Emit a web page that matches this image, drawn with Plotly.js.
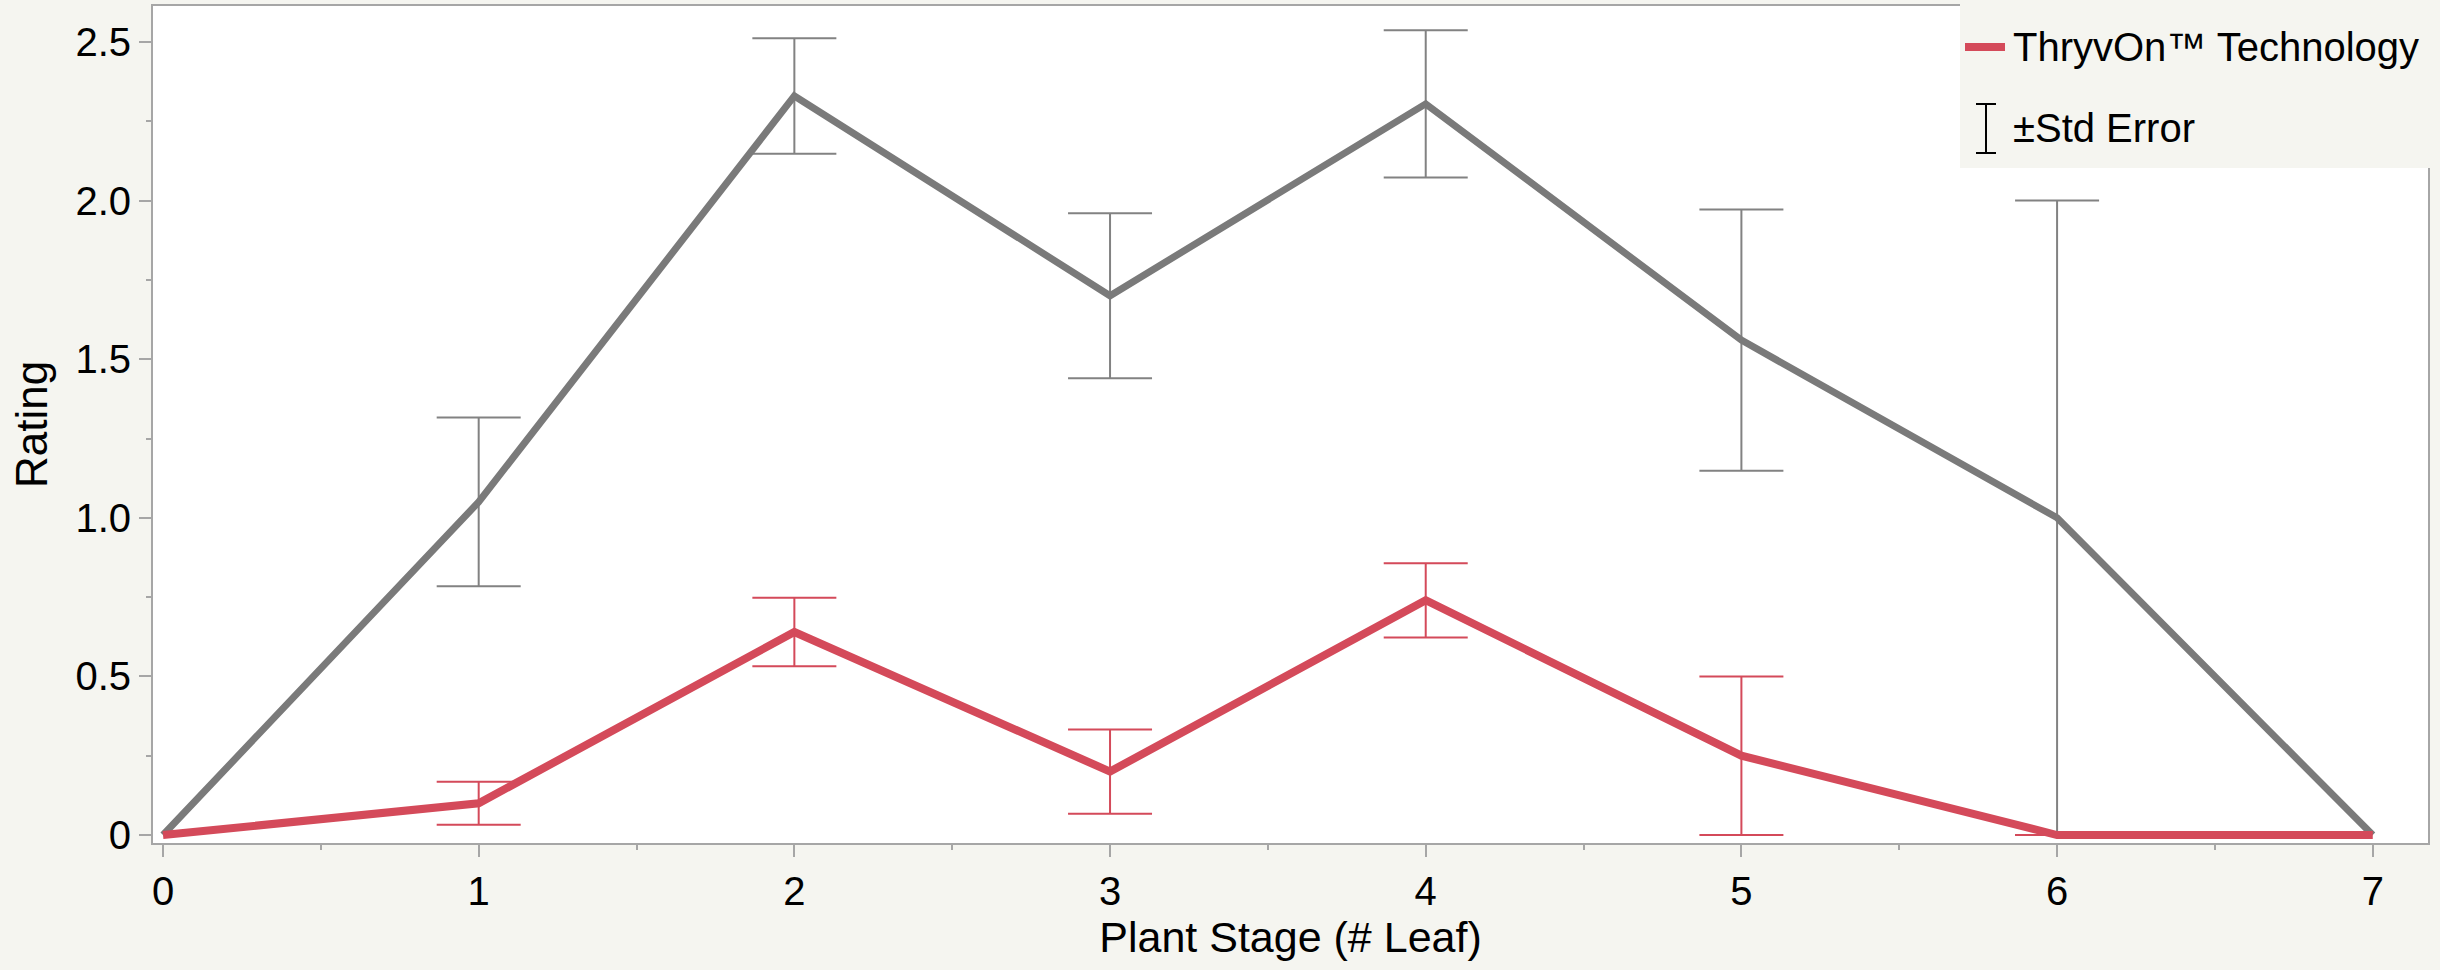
<!DOCTYPE html>
<html>
<head>
<meta charset="utf-8">
<script src="https://cdn.plot.ly/plotly-3.0.1.min.js"></script>
<style>
  html, body { margin: 0; padding: 0; background: #f5f5f0; }
  #chart { width: 2440px; height: 970px; }
</style>
</head>
<body>
<div id="chart"></div>
<script>
// ---- data ----
var stages = [0, 1, 2, 3, 4, 5, 6, 7];
var stageTicks = [0, 1, 2, 3, 4, 5, 6, 7];
var ratingTicks = [0, 0.5, 1.0, 1.5, 2.0, 2.5];
var ratingTickText = ["0", "0.5", "1.0", "1.5", "2.0", "2.5"];

var thryvonName = "ThryvOn\u2122 Technology";
var thryvonMean = [0, 0.10, 0.64, 0.20, 0.74, 0.25, 0, 0];
var thryvonSE   = [null, 0.068, 0.108, 0.133, 0.117, 0.25, 0, null];

var otherName = "Comparison";
var otherMean = [0, 1.05, 2.33, 1.70, 2.305, 1.56, 1.00, 0];
var otherSE   = [null, 0.266, 0.182, 0.26, 0.232, 0.412, 1.00, null];

var errLegendText = "\u00B1Std Error";

// ---- styles ----
var RED = "#d44a5a";
var GREY = "#7a7a7a";
var ERRGREY = "#828282";
var AXIS = "#a6a6a6";
var PAPER = "#f5f5f0";
var FONT = "Liberation Sans, Arial, Helvetica, sans-serif";

function errTrace(mean, se, color, name) {
  var xs = [], ys = [], es = [];
  for (var i = 0; i < stages.length; i++) {
    if (se[i] !== null) { xs.push(stages[i]); ys.push(mean[i]); es.push(se[i]); }
  }
  return {
    x: xs, y: ys, type: "scatter", mode: "markers", name: name + " SE",
    showlegend: false, hoverinfo: "skip",
    marker: { size: 1, opacity: 0, color: color },
    error_y: { type: "data", array: es, visible: true, color: color, thickness: 2, width: 42 }
  };
}

var traces = [
  errTrace(otherMean, otherSE, ERRGREY, otherName),
  { x: stages, y: otherMean, type: "scatter", mode: "lines", name: otherName,
    showlegend: false, line: { color: GREY, width: 7 } },
  errTrace(thryvonMean, thryvonSE, RED, thryvonName),
  { x: stages, y: thryvonMean, type: "scatter", mode: "lines", name: thryvonName,
    showlegend: false, line: { color: RED, width: 8 } }
];

// plot area in pixels
var L = 153, R = 2428, T = 6, B = 843, W = 2440, H = 970;
function px(xp) { return (xp - L) / (R - L); }
function py(yp) { return (B - yp) / (B - T); }

var layout = {
  width: W, height: H,
  paper_bgcolor: PAPER, plot_bgcolor: "#ffffff",
  margin: { l: L, r: W - R, t: T, b: H - B, pad: 0 },
  showlegend: false,
  font: { family: FONT, size: 40, color: "#000" },
  xaxis: {
    range: [-0.0317, 7.175], tickmode: "array", tickvals: stageTicks,
    ticks: "outside", ticklen: 12, tickwidth: 2, tickcolor: AXIS,
    showline: true, linecolor: AXIS, linewidth: 2, mirror: true,
    showgrid: false, zeroline: false,
    minor: { dtick: 0.5, ticks: "outside", ticklen: 5, tickwidth: 2, tickcolor: AXIS, showgrid: false },
    tickfont: { size: 40 },
    title: { text: "Plant Stage (# Leaf)", font: { size: 43 }, standoff: 9 }
  },
  yaxis: {
    range: [-0.0252, 2.6135], tickmode: "array", tickvals: ratingTicks, ticktext: ratingTickText,
    ticks: "outside", ticklen: 12, tickwidth: 2, tickcolor: AXIS,
    showline: true, linecolor: AXIS, linewidth: 2, mirror: true,
    showgrid: false, zeroline: false,
    minor: { dtick: 0.25, ticks: "outside", ticklen: 5, tickwidth: 2, tickcolor: AXIS, showgrid: false },
    tickfont: { size: 40 },
    title: { text: "Rating", font: { size: 44 }, standoff: 14 }
  },
  shapes: [
    { type: "rect", xref: "paper", yref: "paper", x0: px(1960), x1: px(2440), y0: py(168), y1: py(-2),
      fillcolor: PAPER, line: { width: 0 }, layer: "above" },
    { type: "line", xref: "paper", yref: "paper", x0: px(1965), x1: px(2005), y0: py(47), y1: py(47),
      line: { color: RED, width: 8 }, layer: "above" },
    { type: "line", xref: "paper", yref: "paper", x0: px(1986), x1: px(1986), y0: py(104), y1: py(153),
      line: { color: "#000", width: 2 }, layer: "above" },
    { type: "line", xref: "paper", yref: "paper", x0: px(1976), x1: px(1996), y0: py(104), y1: py(104),
      line: { color: "#000", width: 2 }, layer: "above" },
    { type: "line", xref: "paper", yref: "paper", x0: px(1976), x1: px(1996), y0: py(153), y1: py(153),
      line: { color: "#000", width: 2 }, layer: "above" }
  ],
  annotations: [
    { xref: "paper", yref: "paper", x: px(2011), y: py(47), xanchor: "left", yanchor: "middle",
      text: thryvonName, showarrow: false, font: { size: 40, color: "#000" } },
    { xref: "paper", yref: "paper", x: px(2011), y: py(128), xanchor: "left", yanchor: "middle",
      text: errLegendText, showarrow: false, font: { size: 40, color: "#000" } }
  ]
};

Plotly.newPlot("chart", traces, layout, { displayModeBar: false, staticPlot: true });
</script>
</body>
</html>
